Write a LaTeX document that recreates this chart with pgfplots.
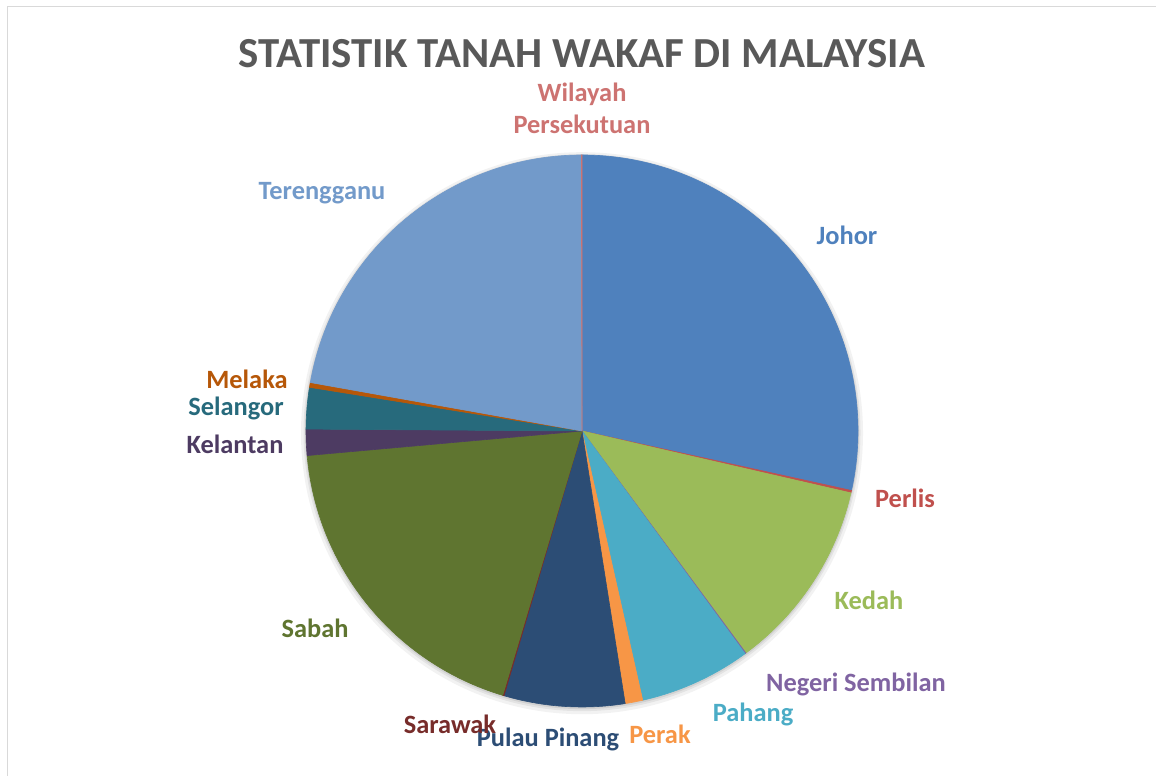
\documentclass[border=0pt]{standalone}
\usepackage{fontspec}
\setmainfont{Carlito}
\usepackage{pgfplots}
\usepackage{pgfplotstable}
\pgfplotsset{compat=1.18}
\definecolor{cJohor}{HTML}{4F81BD}
\definecolor{cPerlis}{HTML}{C0504D}
\definecolor{cKedah}{HTML}{9BBB59}
\definecolor{cNegeri}{HTML}{8064A2}
\definecolor{cPahang}{HTML}{4BACC6}
\definecolor{cPerak}{HTML}{F79646}
\definecolor{cPinang}{HTML}{2C4D75}
\definecolor{cSarawak}{HTML}{772C2A}
\definecolor{cSabah}{HTML}{5F7530}
\definecolor{cKelantan}{HTML}{4D3B62}
\definecolor{cSelangor}{HTML}{276A7C}
\definecolor{cMelaka}{HTML}{B65708}
\definecolor{cTerengganu}{HTML}{729ACA}
\definecolor{cWilayah}{HTML}{CD7371}
\definecolor{cTitle}{HTML}{595959}
\definecolor{cBorder}{HTML}{D9D9D9}

\pgfplotstableread[col sep=comma]{
name,value,color
Johor,28.46,cJohor
Perlis,0.14,cPerlis
Kedah,11.28,cKedah
Negeri Sembilan,0.06,cNegeri
Pahang,6.53,cPahang
Perak,1.03,cPerak
Pulau Pinang,7.06,cPinang
Sarawak,0.08,cSarawak
Sabah,18.94,cSabah
Kelantan,1.53,cKelantan
Selangor,2.42,cSelangor
Melaka,0.28,cMelaka
Terengganu,22.15,cTerengganu
Wilayah Persekutuan,0.04,cWilayah
}\piedata

\begin{document}
\begin{tikzpicture}[x=1bp,y=1bp]
\useasboundingbox (0,0) rectangle (1156,776);
\fill[white] (0,0) rectangle (1156,776);
\draw[line width=1.5bp, color=cBorder] (7.5,-20) |- (1180,769.5);

\begin{axis}[at={(582bp,345bp)}, anchor=origin, hide axis,
  x=276bp, y=276bp, xmin=-1.1, xmax=1.1, ymin=-1.1, ymax=1.1, clip=false]
  \fill[black, opacity=0.05] (axis cs:0,-0.008) circle[radius=281bp];
  \fill[black, opacity=0.06] (axis cs:0,-0.006) circle[radius=278.5bp];
  \fill[black, opacity=0.08] (axis cs:0,-0.004) circle[radius=277bp];
  \pgfplotstablegetrowsof{\piedata}
  \pgfmathtruncatemacro\lastrow{\pgfplotsretval-1}
  \gdef\cum{0}
  \foreach \i in {0,...,\lastrow}{
    \pgfplotstablegetelem{\i}{value}\of\piedata
    \let\sliceVal\pgfplotsretval
    \pgfplotstablegetelem{\i}{color}\of\piedata
    \let\sliceColor\pgfplotsretval
    \pgfmathsetmacro\angA{90-3.6*\cum}
    \pgfmathsetmacro\angB{90-3.6*(\cum+\sliceVal)}
    \edef\temp{\noexpand\fill[\sliceColor, draw=\sliceColor, line width=0.6bp]
      (axis cs:0,0) -- ++(\angA:276bp) arc[start angle=\angA, end angle=\angB, radius=276bp] -- cycle;}
    \temp
    \pgfmathsetmacro\newcum{\cum+\sliceVal}
    \xdef\cum{\newcum}
  }
\end{axis}

\node[font=\fontsize{43}{50}\selectfont\bfseries, text=cTitle, anchor=base] at (582,708) {STATISTIK TANAH WAKAF DI MALAYSIA};

\tikzset{lbl/.style={font=\fontsize{26.5}{32}\selectfont\bfseries, anchor=base, inner sep=0pt}}
\node[lbl, text=cWilayah, align=center, anchor=north] at (582,693) {Wilayah\\Persekutuan};
\node[lbl, text=cJohor] at (847,531) {Johor};
\node[lbl, text=cPerlis] at (905,268) {Perlis};
\node[lbl, text=cKedah] at (869,166) {Kedah};
\node[lbl, text=cNegeri] at (856,84) {Negeri Sembilan};
\node[lbl, text=cPahang] at (753,54) {Pahang};
\node[lbl, text=cPerak] at (660,32) {Perak};
\node[lbl, text=cPinang] at (548,29) {Pulau Pinang};
\node[lbl, text=cSarawak] at (450,42) {Sarawak};
\node[lbl, text=cSabah] at (315,138) {Sabah};
\node[lbl, text=cKelantan] at (235,322) {Kelantan};
\node[lbl, text=cSelangor] at (236,360) {Selangor};
\node[lbl, text=cMelaka] at (247,387) {Melaka};
\node[lbl, text=cTerengganu] at (322,576) {Terengganu};
\end{tikzpicture}
\end{document}
